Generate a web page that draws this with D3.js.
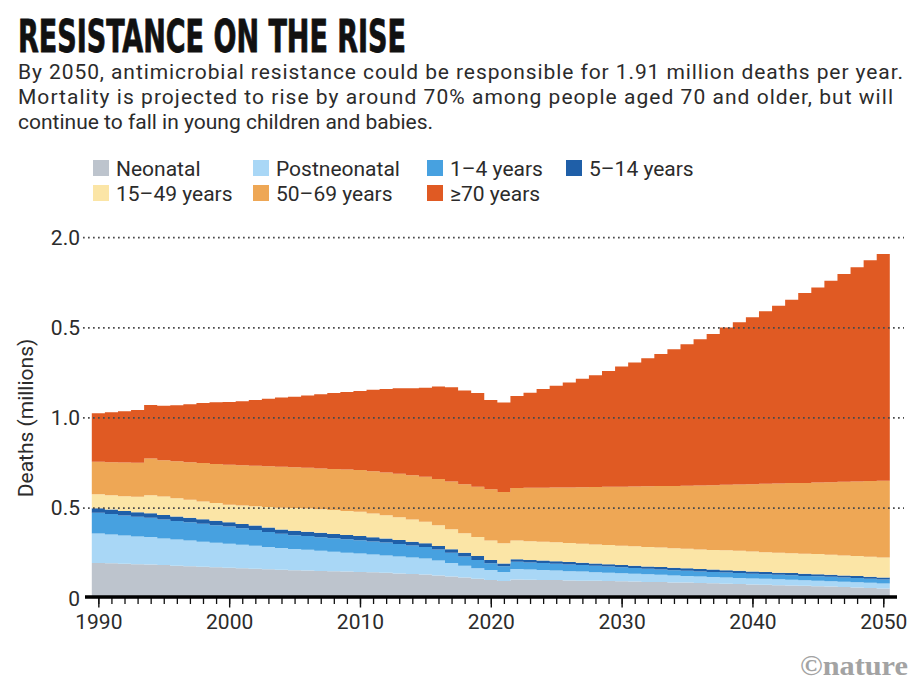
<!DOCTYPE html>
<html><head><meta charset="utf-8">
<script src="https://cdn.jsdelivr.net/npm/d3@7"></script>
<style>body{margin:0;background:#fff}svg{display:block}</style>
</head><body><svg id="c" width="921" height="699"></svg>
<script>
// ---------- DATA (deaths, millions) ----------
const years = d3.range(1990, 2051);
const seriesNames = ["Neonatal","Postneonatal","1–4 years","5–14 years","15–49 years","50–69 years","≥70 years"];
const neonatal = [.196,.194,.191,.189,.188,.184,.181,.178,.175,.172,
  .169,.166,.164,.161,.158,.156,.154,.152,.150,.148,
  .146,.144,.141,.138,.135,.132,.127,.121,.115,.109,
  .102,.096,.104,.103,.102,.101,.099,.098,.097,.096,
  .094,.093,.091,.090,.088,.087,.085,.083,.081,.079,
  .077,.075,.073,.071,.069,.067,.065,.062,.060,.057,.054];
const postneonatal = [.163,.160,.157,.154,.152,.148,.145,.142,.139,.136,
  .134,.131,.128,.124,.121,.118,.115,.112,.108,.105,
  .102,.099,.097,.094,.091,.088,.082,.075,.066,.057,
  .055,.050,.058,.056,.055,.053,.051,.050,.048,.046,
  .045,.043,.042,.040,.039,.037,.036,.035,.035,.034,
  .033,.033,.032,.032,.031,.031,.030,.030,.029,.029,.028];
const age1to4 = [.115,.113,.111,.109,.107,.105,.103,.101,.099,.097,
  .095,.091,.087,.083,.079,.076,.076,.075,.075,.074,
  .074,.072,.071,.069,.067,.065,.061,.056,.051,.046,
  .038,.032,.041,.040,.039,.038,.037,.036,.035,.034,
  .033,.032,.031,.030,.029,.029,.028,.028,.027,.027,
  .026,.026,.025,.025,.024,.024,.024,.023,.023,.022,.022];
const age5to14 = [.025,.025,.025,.025,.025,.025,.025,.025,.025,.025,
  .024,.024,.024,.024,.024,.024,.024,.024,.024,.024,
  .024,.023,.023,.022,.021,.020,.020,.020,.021,.022,
  .018,.015,.014,.014,.014,.014,.014,.013,.013,.013,
  .013,.013,.013,.013,.013,.013,.013,.013,.013,.013,
  .013,.012,.012,.012,.012,.012,.011,.011,.011,.011,.011];
const age15to49 = [.078,.080,.082,.086,.100,.102,.101,.100,.099,.098,
  .097,.102,.108,.114,.120,.127,.129,.131,.132,.133,
  .134,.132,.129,.126,.123,.120,.115,.111,.108,.106,
  .108,.112,.103,.104,.104,.105,.105,.106,.106,.107,
  .107,.108,.108,.108,.109,.109,.109,.109,.110,.110,
  .110,.110,.110,.110,.111,.111,.111,.111,.111,.111,.111];
const age50to69 = [.180,.183,.187,.189,.203,.201,.205,.209,.213,.217,
  .221,.224,.224,.226,.228,.226,.226,.226,.228,.230,
  .231,.235,.237,.241,.245,.249,.257,.265,.271,.278,
  .284,.285,.292,.296,.299,.303,.309,.313,.318,.322,
  .327,.331,.336,.341,.345,.349,.354,.359,.363,.368,
  .374,.379,.385,.389,.393,.397,.403,.409,.414,.420,.426];
const age70plus = [.269,.277,.284,.292,.297,.302,.310,.321,.333,.342,
  .349,.355,.365,.375,.383,.391,.400,.411,.422,.430,
  .439,.451,.463,.475,.483,.494,.512,.522,.520,.520,
  .495,.495,.510,.527,.547,.564,.581,.601,.620,.643,
  .666,.687,.710,.732,.758,.785,.812,.838,.873,.899,
  .926,.956,.985,1.017,1.053,1.082,1.117,1.152,1.187,1.224,1.257];
const yTickValues = [0, 0.5, 1, 1.5, 2];
const yTickLabels = ["0", "0.5", "1.0", "0.5", "2.0"];
const xTickLabels = [1990, 2000, 2010, 2020, 2030, 2040, 2050];
const colors = ["#bdc4cd","#a9d7f6","#47a1e0","#1f5fa8","#fbe5a6","#eea755","#e05a23"];

const seriesArrays = [neonatal, postneonatal, age1to4, age5to14, age15to49, age50to69, age70plus];
const table = years.map((yr, i) => {
  const row = {year: yr};
  seriesNames.forEach((k, j) => row[k] = seriesArrays[j][i]);
  return row;
});

// ---------- LAYOUT ----------
const svg = d3.select("#c");
const FONT = "Roboto, 'Noto Sans', sans-serif";
const TXT = "#2b2b2b";
const x = d3.scaleLinear().domain([1989.5, 2050.5]).range([91.8, 889.8]);
const y = d3.scaleLinear().domain([0, 2]).range([598.3, 237.6]);

// Title
svg.append("text").attr("x", 18).attr("y", 51.5)
  .attr("font-family", "'Liberation Sans Narrow', 'DejaVu Sans Condensed', 'Liberation Sans', sans-serif")
  .attr("font-weight", 700).attr("font-size", 44).attr("fill", "#111")
  .attr("stroke", "#111").attr("stroke-width", 0.8)
  .attr("textLength", 388).attr("lengthAdjust", "spacingAndGlyphs")
  .text("RESISTANCE ON THE RISE");

// Subtitle
const sub = [
  "By 2050, antimicrobial resistance could be responsible for 1.91 million deaths per year.",
  "Mortality is projected to rise by around 70% among people aged 70 and older, but will",
  "continue to fall in young children and babies."
];
const subT = svg.append("g").selectAll("text").data(sub).join("text")
  .attr("x", 18).attr("y", (d, i) => 78.5 + i * 25)
  .attr("font-family", FONT).attr("font-size", 20).attr("fill", TXT).text(d => d);
const w0 = subT.nodes()[0].getComputedTextLength();
const fs = Math.min(21, 20 * 885 / w0);
subT.attr("font-size", fs);
const w1 = subT.nodes()[0].getComputedTextLength();
if (w1 < 880) subT.filter((d, i) => i === 0).attr("textLength", 885).attr("lengthAdjust", "spacing");
if (w1 < 880) subT.filter((d, i) => i === 1).attr("textLength", 875).attr("lengthAdjust", "spacing");

// Legend
const legCols = [93, 253, 427, 566];
const legend = svg.append("g");
seriesNames.forEach((name, i) => {
  const col = i < 4 ? i : i - 4;
  const row = i < 4 ? 0 : 1;
  const lx = legCols[col], ly = 175.5 + row * 25;
  legend.append("rect").attr("x", lx).attr("y", ly - 15.5).attr("width", 16).attr("height", 16).attr("fill", colors[i]);
  legend.append("text").attr("x", lx + 23).attr("y", ly).attr("font-family", FONT)
    .attr("font-size", fs).attr("fill", TXT).text(name);
});

// Stacked steps
const stack = d3.stack().keys(seriesNames);
const layers = stack(table);
const area = d3.area().x(d => x(d.x)).y0(d => y(d.y0)).y1(d => y(d.y1));
svg.append("g").selectAll("path").data(layers).join("path")
  .attr("fill", (d, i) => colors[i])
  .attr("d", layer => {
    const pts = [];
    layer.forEach(p => {
      pts.push({x: p.data.year - 0.5, y0: p[0], y1: p[1]});
      pts.push({x: p.data.year + 0.5, y0: p[0], y1: p[1]});
    });
    return area(pts);
  });

// Gridlines + y labels
const yAxis = d3.axisLeft(y).tickValues(yTickValues)
  .tickFormat((d, i) => yTickLabels[i]).tickSize(0).tickPadding(0);
const gy = svg.append("g").attr("transform", "translate(80,0)").call(yAxis);
gy.select(".domain").remove();
gy.selectAll("text").attr("font-family", FONT).attr("font-size", fs).attr("fill", TXT).attr("x", 0);
svg.append("g").selectAll("line").data(yTickValues.filter(v => v > 0)).join("line")
  .attr("x1", 83).attr("x2", 904).attr("y1", d => y(d)).attr("y2", d => y(d))
  .attr("stroke", "#4a4a4a").attr("stroke-width", 1.7).attr("stroke-dasharray", "1.7,3.3");

svg.append("text").attr("transform", "translate(33,418) rotate(-90)")
  .attr("text-anchor", "middle").attr("font-family", FONT).attr("font-size", fs)
  .attr("fill", TXT).text("Deaths (millions)");

// X axis
const gxMinor = svg.append("g").attr("transform", "translate(0,598)")
  .call(d3.axisBottom(x).tickValues(years).tickSize(6).tickFormat(""));
gxMinor.select(".domain").remove();
gxMinor.selectAll("line").attr("stroke", "#111").attr("stroke-width", 1.3);
const gxMajor = svg.append("g").attr("transform", "translate(0,598)")
  .call(d3.axisBottom(x).tickValues(xTickLabels).tickSize(9.5).tickPadding(7).tickFormat(d3.format("d")));
gxMajor.select(".domain").remove();
gxMajor.selectAll("line").attr("stroke", "#111").attr("stroke-width", 1.4);
gxMajor.selectAll("text").attr("font-family", FONT).attr("font-size", fs).attr("fill", TXT);
svg.append("line").attr("x1", 85).attr("x2", 897).attr("y1", 597).attr("y2", 597)
  .attr("stroke", "#000").attr("stroke-width", 3.6);

// Credit
svg.append("text").attr("x", 908).attr("y", 675).attr("text-anchor", "end")
  .attr("font-family", "'Liberation Serif', 'DejaVu Serif', serif").attr("font-weight", 700)
  .attr("font-size", 28).attr("fill", "#a3a3a3")
  .attr("textLength", 108).attr("lengthAdjust", "spacingAndGlyphs").text("©nature");
</script></body></html>
